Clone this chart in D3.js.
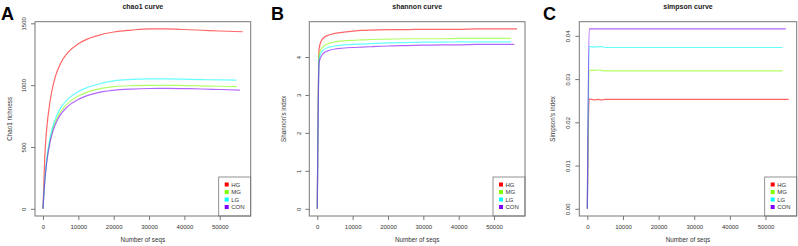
<!DOCTYPE html>
<html>
<head>
<meta charset="utf-8">
<script src="https://cdn.jsdelivr.net/npm/d3@7"></script>
<style>
  body { margin: 0; background: #fff; }
  text { font-family: "Liberation Sans", Arial, sans-serif; }
</style>
</head>
<body>
<script>
const groups = ['HG', 'MG', 'LG', 'CON']
const colors = ['#FF0000', '#80FF00', '#00FFFF', '#8000FF']

// sequencing depth shared by all curves; last point per group is its own max
const depths = [0, 500, 1000, 2000, 3000, 4000, 5000, 7000, 10000, 12500, 15000, 20000, 25000, 30000, 35000, 40000, 45000, 50000]
const maxSeqs = [56500, 54800, 54800, 55700]
const xTicks = [0, 10000, 20000, 30000, 40000, 50000]

const chao1HG = [0, 420, 630, 870, 1017, 1112, 1178, 1263, 1335, 1372, 1397, 1430, 1445, 1455, 1455, 1450, 1444, 1438, 1432]
const chao1MG = [0, 225, 372, 555, 663, 735, 786, 853, 913, 944, 964, 988, 996, 999, 999, 997, 994, 991, 988]
const chao1LG = [0, 232, 386, 575, 688, 763, 816, 887, 948, 980, 1003, 1035, 1046, 1050, 1050, 1048, 1045, 1042, 1040]
const chao1CON = [0, 218, 362, 540, 645, 714, 764, 828, 885, 915, 936, 958, 968, 973, 974, 972, 969, 965, 960]
const chao1Ticks = [0, 500, 1000, 1500]

const shannonHG = [0, 4.2, 4.4, 4.52, 4.57, 4.6, 4.62, 4.65, 4.68, 4.7, 4.71, 4.72, 4.72, 4.73, 4.73, 4.73, 4.74, 4.74, 4.74]
const shannonMG = [0, 4.05, 4.2, 4.3, 4.35, 4.38, 4.4, 4.42, 4.44, 4.45, 4.46, 4.47, 4.48, 4.48, 4.48, 4.49, 4.49, 4.49, 4.49]
const shannonLG = [0, 3.95, 4.1, 4.2, 4.25, 4.27, 4.29, 4.31, 4.33, 4.34, 4.35, 4.37, 4.38, 4.39, 4.39, 4.4, 4.4, 4.4, 4.4]
const shannonCON = [0, 3.85, 4.0, 4.12, 4.16, 4.19, 4.21, 4.23, 4.25, 4.26, 4.27, 4.29, 4.3, 4.31, 4.32, 4.32, 4.33, 4.33, 4.33]
const shannonTicks = [0, 1, 2, 3, 4]

const simpsonHG = [0, 0.0254, 0.0253, 0.0252, 0.0253, 0.0252, 0.0253, 0.0253, 0.0253, 0.0253, 0.0253, 0.0253, 0.0253, 0.0253, 0.0253, 0.0253, 0.0253, 0.0253, 0.0253]
const simpsonMG = [0, 0.032, 0.032, 0.032, 0.0321, 0.032, 0.0319, 0.0319, 0.0319, 0.0319, 0.0319, 0.0319, 0.0319, 0.0319, 0.0319, 0.0319, 0.0319, 0.0319, 0.0319]
const simpsonLG = [0, 0.0375, 0.0375, 0.0374, 0.0375, 0.0375, 0.0373, 0.0373, 0.0373, 0.0373, 0.0373, 0.0373, 0.0373, 0.0373, 0.0373, 0.0373, 0.0373, 0.0373, 0.0373]
const simpsonCON = [0, 0.0416, 0.0416, 0.0416, 0.0416, 0.0416, 0.0416, 0.0416, 0.0416, 0.0416, 0.0416, 0.0416, 0.0416, 0.0416, 0.0416, 0.0416, 0.0416, 0.0416, 0.0416]
const simpsonTicks = [0, 0.01, 0.02, 0.03, 0.04]

const panels = [
  { letter: 'A', title: 'chao1 curve', ylab: 'Chao1 richness', series: [chao1HG, chao1MG, chao1LG, chao1CON],
    yTicks: chao1Ticks, fmt: d3.format('d'), box: [35, 250.7], ylabX: 10, tickX: 24, letterX: 1 },
  { letter: 'B', title: 'shannon curve', ylab: "Shannon's index", series: [shannonHG, shannonMG, shannonLG, shannonCON],
    yTicks: shannonTicks, fmt: d3.format('d'), box: [309.3, 525], ylabX: 283.5, tickX: 298.5, letterX: 271 },
  { letter: 'C', title: 'simpson curve', ylab: "Simpson's index", series: [simpsonHG, simpsonMG, simpsonLG, simpsonCON],
    yTicks: simpsonTicks, fmt: d3.format('.2f'), box: [579.3, 796.7], ylabX: 553, tickX: 568, letterX: 543 }
]

const width = 798
const height = 246
const plotTop = 21.7
const plotBottom = 216
const frame = '#777'

const svg = d3.select('body').append('svg')
  .attr('width', width)
  .attr('height', height)

// R style axis range: data range padded by 4%
const pad = ext => {
  const r = ext[1] - ext[0]
  return [ext[0] - 0.04 * r, ext[1] + 0.04 * r]
}

panels.forEach(p => {
  const g = svg.append('g')
  const lines = p.series.map((vals, i) => vals.map((v, j) => [j < depths.length ? depths[j] : maxSeqs[i], v]))

  const x = d3.scaleLinear()
    .domain(pad([0, d3.max(maxSeqs)]))
    .range(p.box)
  const y = d3.scaleLinear()
    .domain(pad([0, d3.max(p.series.flat())]))
    .range([plotBottom, plotTop])

  const line = d3.line()
    .x(d => x(d[0]))
    .y(d => y(d[1]))
    .curve(d3.curveMonotoneX)

  g.selectAll('.curve')
    .data(lines)
    .enter().append('path')
    .attr('class', 'curve')
    .attr('d', line)
    .style('fill', 'none')
    .style('stroke', (d, i) => colors[i])
    .style('stroke-width', 1.2)
    .style('stroke-opacity', 0.6)

  // x axis
  const xa = g.append('g')
    .attr('transform', `translate(0, ${plotBottom})`)
    .call(d3.axisBottom(x).tickValues(xTicks).tickSize(4).tickPadding(5).tickFormat(d3.format('d')))
  xa.select('.domain').remove()
  xa.selectAll('line').style('stroke', frame)
  xa.selectAll('text').style('font-size', '6px').style('fill', '#333')

  // y axis, labels rotated as in R
  const ya = g.append('g')
    .attr('transform', `translate(${p.box[0]}, 0)`)
    .call(d3.axisLeft(y).tickValues(p.yTicks).tickSize(4).tickFormat(p.fmt))
  ya.select('.domain').remove()
  ya.selectAll('line').style('stroke', frame)
  ya.selectAll('text')
    .attr('x', 0).attr('y', 2).attr('dy', null)
    .attr('transform', `translate(${p.tickX - p.box[0]}, 0) rotate(-90)`)
    .style('text-anchor', 'middle')
    .style('font-size', '6px')
    .style('fill', '#333')

  // legend in bottom right
  const lw = 32
  const lh = 39
  const lg = g.append('g')
    .attr('transform', `translate(${p.box[1] - lw}, ${plotBottom - lh})`)
  lg.append('rect')
    .attr('width', lw).attr('height', lh)
    .style('fill', '#fff')
    .style('stroke', frame)
    .style('stroke-width', 0.8)
  const items = lg.selectAll('.item')
    .data(groups)
    .enter().append('g')
    .attr('class', 'item')
    .attr('transform', (d, i) => `translate(0, ${7.5 + i * 7.5})`)
  items.append('rect')
    .attr('x', 6).attr('y', -2)
    .attr('width', 4).attr('height', 4)
    .style('fill', (d, i) => colors[i])
  items.append('text')
    .attr('x', 12.5).attr('y', 2.3)
    .text(d => d)
    .style('font-size', '6px')
    .style('fill', '#333')

  // plot frame
  g.append('rect')
    .attr('x', p.box[0]).attr('y', plotTop)
    .attr('width', p.box[1] - p.box[0]).attr('height', plotBottom - plotTop)
    .style('fill', 'none')
    .style('stroke', frame)
    .style('stroke-width', 1)

  const cx = (p.box[0] + p.box[1]) / 2
  g.append('text')
    .attr('x', cx).attr('y', 9)
    .text(p.title)
    .style('text-anchor', 'middle')
    .style('font-size', '7px')
    .style('font-weight', 700)
    .style('fill', '#222')

  g.append('text')
    .attr('x', cx).attr('y', 242)
    .text('Number of seqs')
    .style('text-anchor', 'middle')
    .style('font-size', '6.3px')
    .style('fill', '#333')

  g.append('text')
    .attr('transform', `translate(${p.ylabX + 2}, ${(plotTop + plotBottom) / 2}) rotate(-90)`)
    .text(p.ylab)
    .style('text-anchor', 'middle')
    .style('font-size', '6.3px')
    .style('fill', '#333')

  g.append('text')
    .attr('x', p.letterX).attr('y', 20)
    .text(p.letter)
    .style('font-size', '18px')
    .style('font-weight', 700)
    .style('fill', '#000')
})
</script>
</body>
</html>
